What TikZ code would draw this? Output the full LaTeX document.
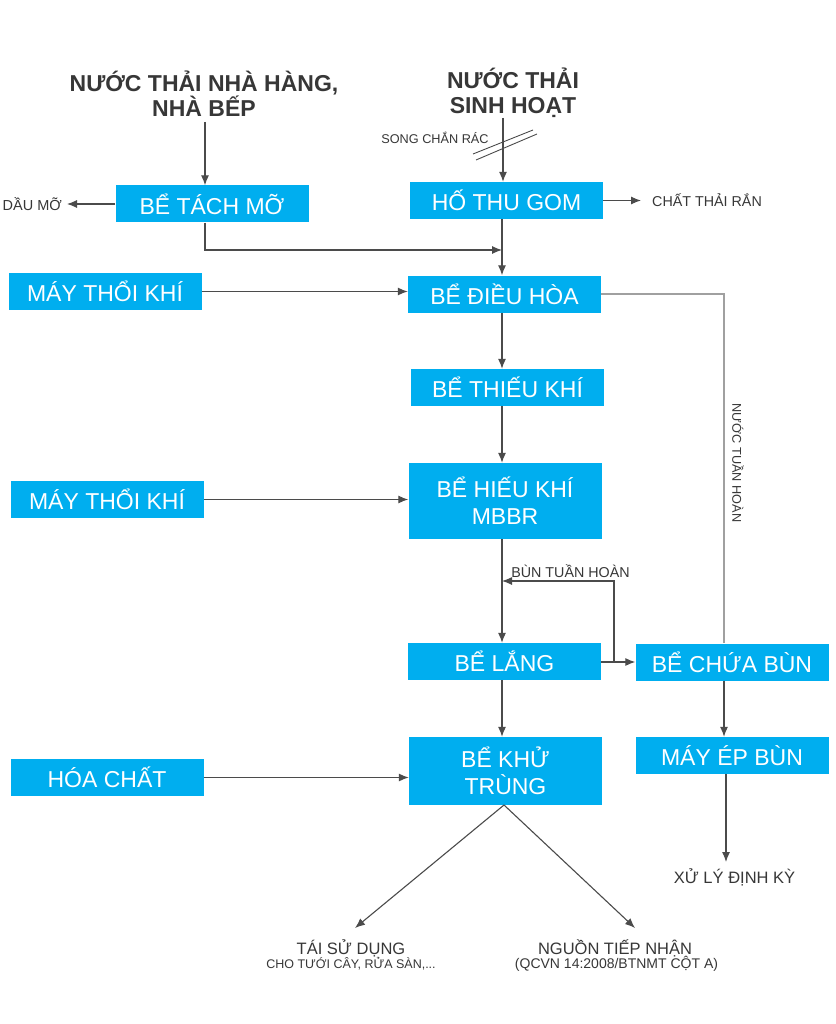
\documentclass[tikz,border=0pt]{standalone}
\usepackage{fontspec}
\setmainfont{Liberation Sans}
\usetikzlibrary{arrows.meta,calc}
\definecolor{boxc}{RGB}{0,174,239}
\definecolor{txt}{RGB}{55,55,55}
\definecolor{ln}{RGB}{75,75,75}
\definecolor{lnl}{RGB}{160,160,160}
\begin{document}
\begin{tikzpicture}[x=1pt,y=-1pt,
  box/.style={fill=boxc,text=white,minimum width=193pt,minimum height=37pt,inner sep=0pt,
    font=\fontsize{23}{27}\selectfont,align=center},
  ttl/.style={text=txt,font=\bfseries\fontsize{23}{25}\selectfont,align=center,inner sep=0pt},
  lbl/.style={text=txt,inner sep=0pt,align=center},
  conn/.style={draw=ln,line width=1.1pt},
  connl/.style={draw=lnl,line width=1.3pt},
  arr/.style={conn,-{Latex[length=10pt,width=8pt]}}]
\fill[white] (0,0) rectangle (835,1024);
\useasboundingbox (0,0) rectangle (835,1024);

% titles
\node[ttl] (t1) at (204,94) {NƯỚC THẢI NHÀ HÀNG,\\NHÀ BẾP};
\node[ttl] (t2) at (513,93) {NƯỚC THẢI\\SINH HOẠT};

% boxes
\node[box] (tm) at (212,204) {BỂ TÁCH MỠ};
\node[box] (htg) at (506.5,200.5) {HỐ THU GOM};
\node[box] (mtk1) at (105,291.5) {MÁY THỔI KHÍ};
\node[box] (dh) at (504.5,294) {BỂ ĐIỀU HÒA};
\node[box] (tk) at (507.5,387.5) {BỂ THIẾU KHÍ};
\node[box,minimum height=76pt] (hk) at (505,501) {BỂ HIẾU KHÍ\\MBBR};
\node[box] (mtk2) at (107,499.5) {MÁY THỔI KHÍ};
\node[box] (bl) at (504.5,661.5) {BỂ LẮNG};
\node[box] (bcb) at (732,662) {BỂ CHỨA BÙN};
\node[box,minimum height=68pt] (kt) at (505.5,771) {BỂ KHỬ\\TRÙNG};
\node[box] (hc) at (107,777.5) {HÓA CHẤT};
\node[box] (meb) at (732,755.5) {MÁY ÉP BÙN};

% labels
\node[lbl,font=\fontsize{14.5}{16}\selectfont,anchor=east] (dm) at (62,204) {DẦU MỠ};
\node[lbl,font=\fontsize{14.3}{16}\selectfont,anchor=west] (ctr) at (652,200.5) {CHẤT THẢI RẮN};
\node[lbl,font=\fontsize{12.7}{14}\selectfont] (scr) at (435,138) {SONG CHẮN RÁC};
\node[lbl,font=\fontsize{14.3}{16}\selectfont] (btl) at (570.5,571) {BÙN TUẦN HOÀN};
\node[lbl,font=\fontsize{12.7}{14}\selectfont,rotate=-90] (nth) at (738,463) {NƯỚC TUẦN HOÀN};
\node[lbl,font=\fontsize{16.5}{18}\selectfont] (xl) at (734.5,877) {XỬ LÝ ĐỊNH KỲ};
\node[lbl,font=\fontsize{16.5}{18}\selectfont] (tsd) at (351,948) {TÁI SỬ DỤNG};
\node[lbl,font=\fontsize{12.5}{14}\selectfont] (tsd2) at (351,964) {CHO TƯỚI CÂY, RỬA SÀN,...};
\node[lbl,font=\fontsize{16.5}{18}\selectfont] (ntn) at (615,948) {NGUỒN TIẾP NHẬN};
\node[lbl,font=\fontsize{14}{16}\selectfont] (ntn2) at (616.5,964) {(QCVN 14:2008/BTNMT CỘT A)};

% coordinates
\coordinate (a1) at (205,122);
\coordinate (a2) at (503,118);
\coordinate (j) at (502,250);
\coordinate (rb) at (614,662);
\coordinate (rt) at (502,581);
\coordinate (cx) at (724,294);
\coordinate (xe) at (726,862);
\coordinate (dl) at (355,928);
\coordinate (dr) at (635,928);
\coordinate (kb) at (504,805);

% connectors
\draw[arr] (a1) -- (a1 |- tm.north);
\draw[arr] (a2) -- (a2 |- htg.north);
\draw[conn,line width=0.9pt] (473,154) -- (533,130);
\draw[conn,line width=0.9pt] (476,160) -- (537,134);
\draw[arr] (tm.west) -- ([xshift=5pt]dm.east);
\draw[arr] (htg.east) -- ([xshift=-11pt]ctr.west);
\draw[arr] (tm.south -| a1) |- (j);
\draw[arr] (htg.south -| j) -- (dh.north -| j);
\draw[arr] (mtk1.east) -- (mtk1.east -| dh.west);
\draw[connl] (dh.east |- cx) -- (cx) -- (cx |- bcb.north);
\draw[arr] (dh.south -| j) -- (tk.north -| j);
\draw[arr] (tk.south -| j) -- (hk.north -| j);
\draw[arr] (mtk2.east) -- (mtk2.east -| hk.west);
\draw[arr] (hk.south -| rt) -- (bl.north -| rt);
\draw[arr] (bl.east |- rb) -- (bcb.west |- rb);
\draw[arr] (rb) |- (rt);
\draw[arr] (bcb.south -| cx) -- (meb.north -| cx);
\draw[arr] (meb.south -| xe) -- (xe);
\draw[arr] (bl.south -| j) -- (kt.north -| j);
\draw[arr] (hc.east) -- (hc.east -| kt.west);
\draw[arr] (kb) -- (dl);
\draw[arr] (kb) -- (dr);
\end{tikzpicture}
\end{document}
